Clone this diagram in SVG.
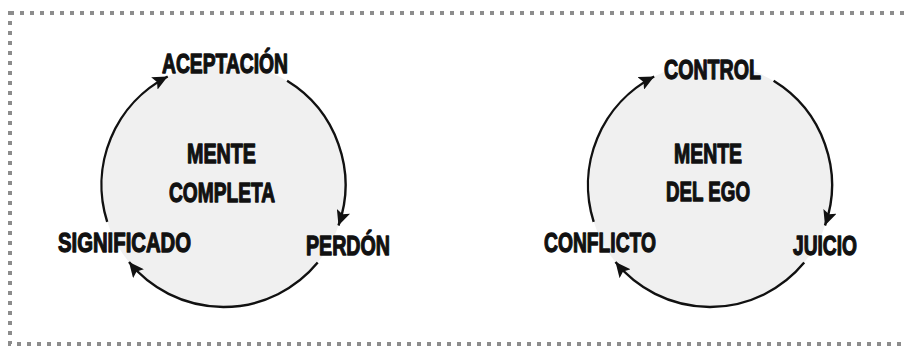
<svg xmlns="http://www.w3.org/2000/svg" width="907" height="347" viewBox="0 0 907 347">
<style>
.bg{fill:#ffffff}
.border{fill:none;stroke:#8c8c8c;stroke-width:4;stroke-dasharray:4 6}
.disc{fill:#f0f0f0;stroke:none}
.arc{fill:none;stroke:#111;stroke-width:2.4}
.lbl{font-family:"Liberation Sans",Arial,sans-serif;font-weight:bold;font-size:28px;fill:#111;stroke:#111;stroke-width:1.3;stroke-linejoin:round;text-anchor:start}
</style>
<defs>
<marker id="ah" markerUnits="userSpaceOnUse" markerWidth="16" markerHeight="14" viewBox="0 0 16 14" refX="15" refY="7" orient="auto">
<path d="M0,0 L15,7 L0,14 L3,7 Z" fill="#111"/>
</marker>
</defs>
<rect class="bg" x="0" y="0" width="907" height="347"/>
<rect class="border" x="10" y="13" width="910" height="331"/>

<g id="mente-completa">
<circle class="disc" cx="223.5" cy="185" r="122"/>
<text class="lbl" x="187" y="163" textLength="69" lengthAdjust="spacingAndGlyphs">MENTE</text>
<text class="lbl" x="169" y="202" textLength="106" lengthAdjust="spacingAndGlyphs">COMPLETA</text>
</g>
<g id="mente-ego">
<circle class="disc" cx="710" cy="185" r="122"/>
<text class="lbl" x="674" y="163" textLength="68" lengthAdjust="spacingAndGlyphs">MENTE</text>
<text class="lbl" x="666" y="201" textLength="84" lengthAdjust="spacingAndGlyphs">DEL EGO</text>
</g>

<g id="aceptacion"><text class="lbl" x="162" y="73" textLength="126" lengthAdjust="spacingAndGlyphs">ACEPTACIÓN</text></g>
<g id="perdon"><text class="lbl" x="306" y="255" textLength="84" lengthAdjust="spacingAndGlyphs">PERDÓN</text></g>
<g id="significado"><text class="lbl" x="58" y="252" textLength="133" lengthAdjust="spacingAndGlyphs">SIGNIFICADO</text></g>
<g id="control"><text class="lbl" x="664" y="79" textLength="97" lengthAdjust="spacingAndGlyphs">CONTROL</text></g>
<g id="juicio"><text class="lbl" x="793" y="255" textLength="64" lengthAdjust="spacingAndGlyphs">JUICIO</text></g>
<g id="conflicto"><text class="lbl" x="544" y="252" textLength="112" lengthAdjust="spacingAndGlyphs">CONFLICTO</text></g>

<g id="connectors">
<path class="arc" d="M287.1,80.8 A122,122 0 0 1 338.5,225.5" marker-end="url(#ah)"/>
<path class="arc" d="M317.7,262.6 A122,122 0 0 1 129,262.1" marker-end="url(#ah)"/>
<path class="arc" d="M107.2,221.9 A122,122 0 0 1 167.7,76.5" marker-end="url(#ah)"/>
<path class="arc" d="M773.6,80.8 A122,122 0 0 1 825,225.5" marker-end="url(#ah)"/>
<path class="arc" d="M804.2,262.6 A122,122 0 0 1 615.5,262.1" marker-end="url(#ah)"/>
<path class="arc" d="M593.7,221.9 A122,122 0 0 1 654.2,76.5" marker-end="url(#ah)"/>
</g>
</svg>
